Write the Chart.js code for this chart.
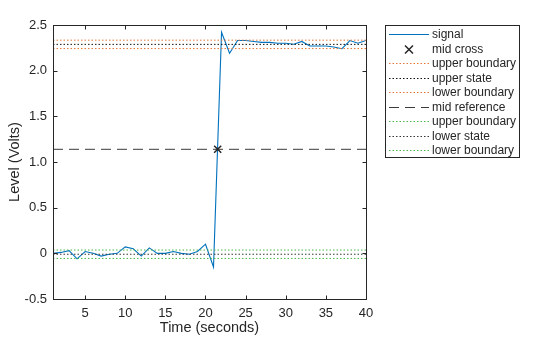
<!DOCTYPE html>
<html>
<head>
<meta charset="utf-8">
<script src="https://cdn.jsdelivr.net/npm/chart.js@4.4.0/dist/chart.umd.min.js"></script>
<style>
  html, body { margin: 0; padding: 0; background: #fff; }
  #wrap { width: 560px; height: 337px; }
</style>
</head>
<body>
<div id="wrap"><canvas id="chart" width="560" height="337"></canvas></div>
<script>
// ---- data ----
const time = [1, 2, 3, 4, 5, 6, 7, 8, 9, 10, 11, 12, 13, 14, 15, 16, 17, 18, 19, 20,
              21, 22, 23, 24, 25, 26, 27, 28, 29, 30, 31, 32, 33, 34, 35, 36, 37, 38, 39, 40];
const signal = [0, 0.01, 0.03, -0.06, 0.02, 0.0, -0.03, -0.01, 0.0, 0.07,
                0.05, -0.03, 0.06, 0.0, 0.0, 0.02, 0.0, -0.01, 0.02, 0.10,
                -0.15, 2.42, 2.19, 2.33, 2.33, 2.32, 2.31, 2.31, 2.30, 2.30,
                2.29, 2.32, 2.27, 2.27, 2.27, 2.26, 2.24, 2.33, 2.30, 2.33];
const midCross = [21.52, 1.139];
const upperState = 2.288;
const upperBounds = [2.334, 2.242];
const lowerState = -0.01;
const lowerBounds = [0.036, -0.056];
const midReference = 1.139;
const xRange = [1, 40];
const xTicks = [5, 10, 15, 20, 25, 30, 35, 40];
const yTicks = [-0.5, 0, 0.5, 1, 1.5, 2, 2.5];
const legendLabels = ['signal', 'mid cross', 'upper boundary', 'upper state', 'lower boundary',
                      'mid reference', 'upper boundary', 'lower state', 'lower boundary'];

const ORANGE = '#e2763a';
const GREEN = '#4cb64c';
const DARK = '#262626';
const FONT = '"Liberation Sans", Arial, Helvetica, sans-serif';

// horizontal reference line across the whole time range
function hline(label, value, color, dash, width) {
  return {
    label: label,
    data: xRange.map(x => ({ x: x, y: value })),
    borderColor: color,
    borderDash: dash,
    borderWidth: width || 1,
    pointRadius: 0,
    fill: false,
    showLine: true
  };
}

const datasets = [
  {
    label: legendLabels[0],
    data: time.map((t, i) => ({ x: t, y: signal[i] })),
    borderColor: '#0072bd',
    borderWidth: 1.1,
    pointRadius: 0,
    showLine: true,
    fill: false,
    order: 5
  },
  {
    label: legendLabels[1],
    data: [{ x: midCross[0], y: midCross[1] }],
    pointStyle: 'crossRot',
    pointRadius: 5,
    pointBorderWidth: 1.5,
    borderColor: DARK,
    backgroundColor: DARK,
    showLine: false,
    order: 0
  },
  hline(legendLabels[2], upperBounds[0], ORANGE, [1.5, 2]),
  hline(legendLabels[3], upperState, '#111', [1.5, 2]),
  hline(legendLabels[4], upperBounds[1], ORANGE, [1.5, 2]),
  hline(legendLabels[5], midReference, '#3a3a3a', [10, 6], 1),
  hline(legendLabels[6], lowerBounds[0], GREEN, [1.5, 2]),
  hline(legendLabels[7], lowerState, '#333', [1.5, 2]),
  hline(legendLabels[8], lowerBounds[1], GREEN, [1.5, 2])
];

// -------------------------------
// Box, inward ticks and legend (MATLAB style)
// -------------------------------
const matlabFrame = {
  id: 'matlabFrame',
  afterDatasetsDraw(chart) {
    const { ctx, chartArea: a, scales } = chart;
    const L = Math.round(a.left) + 0.5, R = Math.round(a.right) + 0.5;
    const T = Math.round(a.top) + 0.5, B = Math.round(a.bottom) + 0.5;
    ctx.save();
    ctx.strokeStyle = DARK;
    ctx.lineWidth = 1;
    ctx.setLineDash([]);
    ctx.strokeRect(L, T, R - L, B - T);
    const tl = 4;
    ctx.beginPath();
    scales.x.ticks.forEach(t => {
      const px = Math.round(scales.x.getPixelForValue(t.value)) + 0.5;
      ctx.moveTo(px, B); ctx.lineTo(px, B - tl);
      ctx.moveTo(px, T); ctx.lineTo(px, T + tl);
    });
    scales.y.ticks.forEach(t => {
      const py = Math.round(scales.y.getPixelForValue(t.value)) + 0.5;
      ctx.moveTo(L, py); ctx.lineTo(L + tl, py);
      ctx.moveTo(R, py); ctx.lineTo(R - tl, py);
    });
    ctx.stroke();
    ctx.restore();
  },
  afterDraw(chart) {
    const { ctx } = chart;
    const bx = 385.5, by = 25.5, bw = 134, bh = 132;
    const row = 14.5, first = 34;
    ctx.save();
    ctx.fillStyle = '#fff';
    ctx.fillRect(bx, by, bw, bh);
    ctx.strokeStyle = DARK;
    ctx.lineWidth = 1;
    ctx.strokeRect(bx, by, bw, bh);
    ctx.font = '12px ' + FONT;
    ctx.textBaseline = 'middle';
    chart.data.datasets.forEach((ds, i) => {
      const y = Math.round(first + i * row) + 0.5;
      ctx.strokeStyle = ds.borderColor;
      if (ds.showLine === false) {
        // marker sample
        const cx = 409, s = 4;
        ctx.setLineDash([]);
        ctx.lineWidth = 1.5;
        ctx.beginPath();
        ctx.moveTo(cx - s, y - s); ctx.lineTo(cx + s, y + s);
        ctx.moveTo(cx + s, y - s); ctx.lineTo(cx - s, y + s);
        ctx.stroke();
      } else {
        ctx.setLineDash(ds.borderDash || []);
        ctx.lineWidth = ds.borderWidth;
        ctx.beginPath();
        ctx.moveTo(389, y); ctx.lineTo(429, y);
        ctx.stroke();
      }
      ctx.fillStyle = DARK;
      ctx.fillText(ds.label, 432, y);
    });
    ctx.restore();
  }
};

new Chart(document.getElementById('chart'), {
  type: 'scatter',
  data: { datasets: datasets },
  plugins: [matlabFrame],
  options: {
    responsive: false,
    animation: false,
    layout: { padding: { top: 25, right: 194, left: 0, bottom: 0 } },
    plugins: {
      legend: { display: false },
      tooltip: { enabled: false }
    },
    scales: {
      x: {
        type: 'linear',
        min: xRange[0],
        max: xRange[1],
        afterBuildTicks: s => { s.ticks = xTicks.map(v => ({ value: v })); },
        afterFit: s => { s.height = 38; },
        grid: { display: false, drawTicks: false },
        border: { display: false },
        ticks: { padding: 7, color: DARK, font: { family: FONT, size: 13 } },
        title: {
          display: true,
          text: 'Time (seconds)',
          color: DARK,
          font: { family: FONT, size: 14.5 },
          padding: { top: 0, bottom: 0 }
        }
      },
      y: {
        min: -0.5,
        max: 2.5,
        afterBuildTicks: s => { s.ticks = yTicks.map(v => ({ value: v })); },
        afterFit: s => { s.width = 53; },
        grid: { display: false, drawTicks: false },
        border: { display: false },
        ticks: { padding: 6, color: DARK, font: { family: FONT, size: 13 } },
        title: {
          display: true,
          text: 'Level (Volts)',
          color: DARK,
          font: { family: FONT, size: 14.5 },
          padding: { top: 6, bottom: 0 }
        }
      }
    }
  }
});
</script>
</body>
</html>
